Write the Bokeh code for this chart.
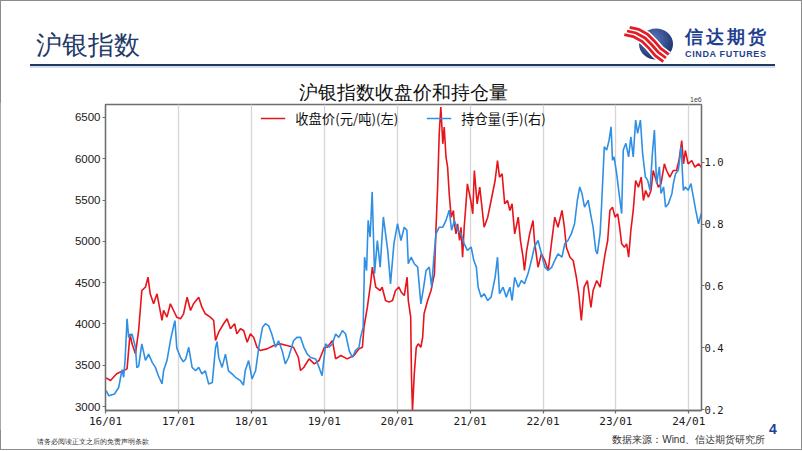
import pandas as pd
from bokeh.plotting import figure
from bokeh.models import (Range1d, LinearAxis, FixedTicker, DatetimeTickFormatter,
                          Legend, LegendItem, ColumnDataSource, Div)
from bokeh.layouts import column, row
from bokeh.embed import file_html
from bokeh.resources import INLINE

# ---------------- data ----------------
price_dates = [
    "2016-01-04", "2016-01-26", "2016-02-26", "2016-04-01", "2016-04-18", "2016-05-03", "2016-05-13",
    "2016-05-30", "2016-06-15", "2016-07-01", "2016-07-19", "2016-08-01", "2016-08-12", "2016-08-29",
    "2016-09-15", "2016-10-10", "2016-10-18", "2016-11-04", "2016-11-21", "2016-12-07", "2016-12-23",
    "2017-01-11", "2017-01-26", "2017-02-13", "2017-03-02", "2017-03-17", "2017-04-12", "2017-04-28",
    "2017-05-15", "2017-06-09", "2017-06-26", "2017-07-05", "2017-07-21", "2017-08-15", "2017-09-01",
    "2017-09-18", "2017-10-09", "2017-10-20", "2017-11-07", "2017-11-23", "2017-12-11", "2017-12-27",
    "2018-01-12", "2018-01-29", "2018-02-14", "2018-03-20", "2018-04-23", "2018-05-25", "2018-06-28",
    "2018-07-31", "2018-08-24", "2018-09-04", "2018-09-21", "2018-10-17", "2018-11-12", "2018-12-06",
    "2019-01-02", "2019-01-16", "2019-02-11", "2019-02-27", "2019-03-25", "2019-04-26", "2019-05-30",
    "2019-06-24", "2019-07-11", "2019-07-19", "2019-08-05", "2019-08-21", "2019-08-30", "2019-09-16",
    "2019-10-08", "2019-10-18", "2019-11-04", "2019-11-21", "2019-12-09", "2019-12-24",
    "2020-01-10", "2020-01-22", "2020-02-06", "2020-02-20", "2020-02-26", "2020-03-09", "2020-03-13",
    "2020-03-18", "2020-03-27", "2020-04-06", "2020-04-16", "2020-04-29", "2020-05-08", "2020-05-15",
    "2020-06-02", "2020-06-19", "2020-07-06", "2020-07-14", "2020-07-22", "2020-07-30", "2020-08-07",
    "2020-08-17", "2020-08-24", "2020-09-02", "2020-09-10", "2020-09-18", "2020-09-28", "2020-10-09",
    "2020-10-14", "2020-10-22", "2020-10-30", "2020-11-09", "2020-11-16", "2020-11-24", "2020-12-02",
    "2020-12-11", "2020-12-18",
    "2021-01-04", "2021-01-14", "2021-01-22", "2021-02-05", "2021-02-18", "2021-03-01", "2021-03-12",
    "2021-03-30", "2021-04-16", "2021-05-06", "2021-05-18", "2021-05-28", "2021-06-10", "2021-06-23",
    "2021-07-07", "2021-07-19", "2021-07-30", "2021-08-12", "2021-08-30", "2021-09-10", "2021-09-23",
    "2021-09-30", "2021-10-11", "2021-10-26", "2021-11-12", "2021-11-19", "2021-12-07", "2021-12-24",
    "2022-01-10", "2022-01-27", "2022-02-14", "2022-03-01", "2022-03-17", "2022-04-06", "2022-04-18",
    "2022-04-28", "2022-05-16", "2022-06-01", "2022-06-17", "2022-06-29", "2022-07-12", "2022-07-26",
    "2022-08-11", "2022-08-29", "2022-09-09", "2022-09-27", "2022-10-14", "2022-10-26", "2022-11-08",
    "2022-11-21", "2022-12-02", "2022-12-15", "2022-12-28",
    "2023-01-10", "2023-01-20", "2023-01-30", "2023-02-13", "2023-02-24", "2023-03-06", "2023-03-17",
    "2023-03-29", "2023-04-10", "2023-04-24", "2023-05-08", "2023-05-19", "2023-05-30", "2023-06-13",
    "2023-06-26", "2023-07-07", "2023-07-17", "2023-08-02", "2023-08-15", "2023-09-01", "2023-09-12",
    "2023-09-28", "2023-10-16", "2023-11-01", "2023-11-13", "2023-11-27", "2023-12-06", "2023-12-15",
    "2023-12-29",
    "2024-01-16", "2024-02-01", "2024-02-19", "2024-03-04",
]
price_close = [
    3347, 3315, 3396, 3436, 3456, 3880, 3759, 3638, 3920, 4405, 4445, 4566, 4365, 4244, 4365, 4042,
    4163, 4082, 4244, 4163, 4082,
    4062, 4123, 4324, 4163, 4244, 4324, 4203, 4123, 4082, 4042, 3799, 3900, 4002, 4062, 3941, 4002,
    3880, 3941, 3920, 3779, 3880,
    3839, 3718, 3678, 3698, 3739, 3759, 3739, 3718, 3597, 3436, 3476, 3577, 3517, 3557,
    3718, 3718, 3799, 3577, 3618, 3577, 3618, 3698, 3718, 3960, 4203, 4486, 4687, 4445, 4405, 4445,
    4284, 4264, 4284, 4405,
    4445, 4384, 4344, 4566, 4284, 4082, 3355, 2952, 3396, 3718, 3759, 3718, 3839, 4123, 4284, 4405,
    4607, 5171, 5656, 6302, 6625, 6181, 6383, 6019, 5898, 5576, 5293, 5374, 5213, 5091, 5213, 5010,
    5171, 4808, 5171, 5454, 5697,
    5495, 5334, 5858, 5454, 5656, 5414, 5171, 5293, 5495, 5737, 5979, 5777, 5818, 5454, 5495, 5374,
    5454, 5091, 5293, 5010, 4808, 4647, 4889, 5091, 5253, 5010, 4687, 4849,
    4768, 4647, 5010, 5293, 5171, 5374, 5171, 4929, 4808, 4768, 4566, 4365, 4042, 4445, 4526, 4200,
    4405, 4526, 4445, 4647, 4849, 5010, 5374, 5414, 5293,
    5334, 5171, 4970, 4929, 4970, 4808, 5131, 5374, 5737, 5656, 5777, 5495, 5616, 5535, 5616, 5858,
    5777, 5656, 5697, 5939, 5858, 5777, 5858, 5858, 5979, 6221, 5939, 6100, 5939,
    5979, 5898, 5939, 5898,
]

oi_dates = [
    "2016-01-04", "2016-01-18", "2016-02-15", "2016-03-07", "2016-03-24", "2016-04-01", "2016-04-08",
    "2016-04-18", "2016-04-26", "2016-05-13", "2016-05-30", "2016-06-06", "2016-06-15", "2016-07-01",
    "2016-07-19", "2016-08-04", "2016-08-22", "2016-09-07", "2016-09-22", "2016-10-10", "2016-10-18",
    "2016-11-04", "2016-11-21", "2016-12-07", "2016-12-14", "2016-12-23",
    "2017-01-11", "2017-01-25", "2017-02-06", "2017-02-21", "2017-03-10", "2017-03-27", "2017-04-12",
    "2017-04-28", "2017-05-15", "2017-06-01", "2017-06-19", "2017-07-05", "2017-07-13", "2017-07-21",
    "2017-08-07", "2017-08-24", "2017-09-08", "2017-09-26", "2017-10-13", "2017-11-07", "2017-11-22",
    "2017-12-01", "2017-12-18",
    "2018-01-04", "2018-01-22", "2018-02-07", "2018-02-26", "2018-03-12", "2018-03-28", "2018-04-13",
    "2018-05-02", "2018-05-17", "2018-06-04", "2018-06-20", "2018-07-06", "2018-07-31", "2018-08-17",
    "2018-09-04", "2018-09-21", "2018-10-08", "2018-10-25", "2018-11-19", "2018-12-06", "2018-12-21",
    "2019-01-08", "2019-01-25", "2019-02-11", "2019-02-27", "2019-03-15", "2019-04-02", "2019-04-18",
    "2019-05-06", "2019-05-22", "2019-06-06", "2019-06-24", "2019-07-02", "2019-07-15", "2019-07-22",
    "2019-08-01", "2019-08-09", "2019-08-19", "2019-08-29", "2019-09-10", "2019-09-24", "2019-10-08",
    "2019-10-24", "2019-11-04", "2019-11-15", "2019-11-29", "2019-12-16",
    "2020-01-03", "2020-01-20", "2020-02-06", "2020-02-19", "2020-02-26", "2020-03-11", "2020-03-27",
    "2020-04-13", "2020-04-29", "2020-05-13", "2020-05-25", "2020-06-10", "2020-06-22", "2020-07-02",
    "2020-07-14", "2020-07-30", "2020-08-17", "2020-09-02", "2020-09-18", "2020-09-30", "2020-10-14",
    "2020-10-30", "2020-11-16", "2020-12-02", "2020-12-18",
    "2021-01-06", "2021-01-19", "2021-02-01", "2021-02-10", "2021-02-25", "2021-03-12", "2021-03-30",
    "2021-04-16", "2021-05-06", "2021-05-18", "2021-05-28", "2021-06-15", "2021-07-01", "2021-07-19",
    "2021-07-30", "2021-08-12", "2021-08-30", "2021-09-15", "2021-09-30", "2021-10-18", "2021-11-04",
    "2021-11-19", "2021-12-07", "2021-12-24",
    "2022-01-10", "2022-01-27", "2022-02-14", "2022-03-01", "2022-03-17", "2022-04-06", "2022-04-20",
    "2022-05-06", "2022-05-23", "2022-06-08", "2022-06-22", "2022-07-04", "2022-07-15", "2022-07-28",
    "2022-08-15", "2022-08-30", "2022-09-09", "2022-09-22", "2022-09-30", "2022-10-14", "2022-10-21",
    "2022-11-04", "2022-11-16", "2022-11-28", "2022-12-08", "2022-12-15", "2022-12-23",
    "2023-01-05", "2023-01-17", "2023-01-30", "2023-02-07", "2023-02-20", "2023-03-06", "2023-03-17",
    "2023-03-29", "2023-04-10", "2023-04-20", "2023-05-04", "2023-05-15", "2023-05-29", "2023-06-09",
    "2023-06-21", "2023-07-03", "2023-07-13", "2023-07-24", "2023-08-07", "2023-08-15", "2023-08-28",
    "2023-09-07", "2023-09-21", "2023-10-09", "2023-10-16", "2023-10-27", "2023-11-10", "2023-11-24",
    "2023-12-05", "2023-12-15", "2023-12-29",
    "2024-01-12", "2024-01-24", "2024-02-05", "2024-02-19", "2024-03-04",
]
oi_hold = [
    262000, 245000, 251000, 272000, 330000, 305000, 360000, 494000, 434000, 445000, 402000, 336000,
    340000, 413000, 360000, 380000, 353000, 337000, 310000, 284000, 326000, 359000, 423000, 470000,
    488000, 400000,
    369000, 355000, 364000, 402000, 337000, 326000, 337000, 316000, 326000, 283000, 288000, 400000,
    420000, 370000, 337000, 380000, 326000, 316000, 305000, 294000, 280000, 326000, 359000,
    300000, 326000, 402000, 467000, 478000, 472000, 445000, 402000, 423000, 391000, 348000, 369000,
    423000, 434000, 434000, 402000, 380000, 369000, 364000, 337000, 310000,
    413000, 402000, 413000, 445000, 434000, 456000, 445000, 391000, 369000, 391000, 402000, 434000,
    467000, 693000, 650000, 812000, 758000, 904000, 640000, 747000, 661000, 823000, 769000, 715000,
    607000, 737000,
    801000, 747000, 790000, 780000, 672000, 693000, 672000, 661000, 542000, 596000, 650000, 661000,
    596000, 683000, 769000, 790000, 790000, 812000, 845000, 780000, 812000, 780000, 769000, 737000,
    715000,
    726000, 683000, 661000, 596000, 564000, 575000, 553000, 564000, 628000, 693000, 575000, 596000,
    564000, 596000, 553000, 628000, 596000, 618000, 607000, 640000, 683000, 726000, 747000, 704000,
    661000, 650000, 661000, 683000, 704000, 693000, 737000, 747000, 769000, 801000, 877000, 920000,
    899000, 855000, 877000, 823000, 790000, 715000, 704000, 769000, 855000, 1050000, 1039000,
    1071000, 1114000, 1006000, 1017000,
    963000, 899000, 834000, 1039000, 1061000, 1017000, 1082000, 1017000, 1136000, 1093000, 1136000,
    1028000, 952000, 942000, 909000, 1028000, 1104000, 931000, 985000, 899000, 920000, 855000,
    866000, 899000, 931000, 963000, 974000, 1050000, 909000, 920000, 909000,
    931000, 888000, 845000, 801000, 834000,
]

x_tick_dates = ["2016-01-01", "2017-01-01", "2018-01-01", "2019-01-01", "2020-01-01",
                "2021-01-01", "2022-01-01", "2023-01-01", "2024-01-01"]
x_tick_labels = ["16/01", "17/01", "18/01", "19/01", "20/01", "21/01", "22/01", "23/01", "24/01"]
price_ticks = [3000, 3500, 4000, 4500, 5000, 5500, 6000, 6500]
oi_ticks = [200000, 400000, 600000, 800000, 1000000]
oi_tick_labels = ["0.2", "0.4", "0.6", "0.8", "1.0"]
oi_offset_text = "1e6"

series_names = ["收盘价(元/吨)(左)", "持仓量(手)(右)"]
chart_title = "沪银指数收盘价和持仓量"
slide_title = "沪银指数"
brand_cn = "信达期货"
brand_en = "CINDA FUTURES"
source_note = "数据来源：Wind、信达期货研究所"
disclaimer = "请务必阅读正文之后的免责声明条款"
page_no = "4"

# ---------------- styling ----------------
CJK = "Noto Sans CJK SC"
NAVY = "#1F3A68"
BRAND = "#1F3F8F"
RED = "#E8141B"
BLUE = "#2F8FE5"
SPINE = "#6e6e6e"

# ---------------- header: slide title, rule, logo, chart title ----------------
base = [(627, 31), (636, 33), (645, 38), (652, 45), (658, 52), (666, 58)]
def pts(off):
    return " ".join(f"{x - 0.6 * off:.1f},{y + 0.8 * off:.1f}" for x, y in base)

header_svg = f"""
<svg xmlns="http://www.w3.org/2000/svg" width="802" height="102" style="display:block">
  <defs>
    <radialGradient id="gl" cx="0.4" cy="0.35" r="0.7">
      <stop offset="0" stop-color="#5d7cc0"/>
      <stop offset="1" stop-color="#1b2f6a"/>
    </radialGradient>
  </defs>
  <text x="36" y="45" font-family="{CJK}" font-size="26" fill="{NAVY}"
        dominant-baseline="central">{slide_title}</text>
  <line x1="30" y1="67" x2="775" y2="67" stroke="#c9d3e3" stroke-width="1.5"/>
  <line x1="30" y1="65" x2="775" y2="65" stroke="{NAVY}" stroke-width="2"/>
  <ellipse cx="656" cy="44" rx="17" ry="15.5" fill="url(#gl)"/>
  <polyline points="{pts(0)}" fill="none" stroke="white" stroke-width="15"/>
  <polyline points="{pts(-4.5)}" fill="none" stroke="#E21B25" stroke-width="2.8"/>
  <polyline points="{pts(0)}" fill="none" stroke="#E21B25" stroke-width="2.8"/>
  <polyline points="{pts(4.5)}" fill="none" stroke="#E21B25" stroke-width="2.8"/>
  <text x="685" y="37" font-family="{CJK}" font-size="17.5" font-weight="bold" fill="{BRAND}"
        textLength="81" lengthAdjust="spacing" dominant-baseline="central">{brand_cn}</text>
  <text x="685" y="54" font-family="Liberation Sans" font-size="9" font-weight="bold"
        fill="{BRAND}" textLength="81" lengthAdjust="spacing"
        dominant-baseline="central">{brand_en}</text>
  <text x="403" y="92.5" font-family="{CJK}" font-size="19" fill="#111111" text-anchor="middle"
        dominant-baseline="central">{chart_title}</text>
  <text x="690" y="99.5" font-family="DejaVu Sans" font-size="7" fill="#444444"
        dominant-baseline="central">{oi_offset_text}</text>
</svg>"""

footer_svg = f"""
<svg xmlns="http://www.w3.org/2000/svg" width="766" height="20" style="display:block">
  <text x="37" y="11" font-family="{CJK}" font-size="6.8" fill="#333333"
        dominant-baseline="central">{disclaimer}</text>
  <text x="765" y="9.5" font-family="{CJK}" font-size="10" fill="#333333" text-anchor="end"
        dominant-baseline="central">{source_note}</text>
</svg>"""

strip_svg = f"""
<svg xmlns="http://www.w3.org/2000/svg" width="36" height="348" style="display:block">
  <text x="7" y="327" font-family="Liberation Sans" font-size="14" font-weight="bold"
        fill="#1F3F99" text-anchor="middle" dominant-baseline="central">{page_no}</text>
</svg>"""

header = Div(text=header_svg, width=802, height=102, margin=0)
footer = Div(text=footer_svg, width=766, height=20, margin=0)
strip = Div(text=strip_svg, width=36, height=348, margin=0)

# ---------------- chart ----------------
p = figure(width=766, height=328, x_axis_type="datetime", title_location=None,
           x_range=Range1d(pd.Timestamp("2016-01-01"), pd.Timestamp("2024-03-05")),
           y_range=Range1d(2952, 6657),
           output_backend="svg", toolbar_location=None,
           min_border_left=105, min_border_right=65, min_border_top=2, min_border_bottom=20)

p.extra_y_ranges = {"oi": Range1d(197700, 1186400)}

src_p = ColumnDataSource(dict(date=pd.to_datetime(price_dates), v=price_close))
src_o = ColumnDataSource(dict(date=pd.to_datetime(oi_dates), v=oi_hold))
r1 = p.line("date", "v", source=src_p, line_color=RED, line_width=1.6)
r2 = p.line("date", "v", source=src_o, y_range_name="oi", line_color=BLUE, line_width=1.6)

x_ticks = [pd.Timestamp(d).value / 1e6 for d in x_tick_dates]
xt = FixedTicker(ticks=x_ticks)
xa = p.xaxis[0]
xa.ticker = xt
fmt = "%y/%m"
xa.formatter = DatetimeTickFormatter(microseconds=fmt, milliseconds=fmt, seconds=fmt, minsec=fmt,
                                     minutes=fmt, hourmin=fmt, hours=fmt, days=fmt, months=fmt,
                                     years=fmt)
xa.major_label_overrides = dict(zip(x_ticks, x_tick_labels))
xa.major_label_text_font = "DejaVu Sans Mono"
xa.major_label_text_font_size = "11px"
xa.major_label_standoff = 1

ya = p.yaxis[0]
ya.ticker = FixedTicker(ticks=price_ticks)
ya.major_label_text_font = "Liberation Sans"
ya.major_label_text_font_size = "11.5px"
ya.major_label_standoff = 2

ra = LinearAxis(y_range_name="oi", ticker=FixedTicker(ticks=oi_ticks),
                major_label_overrides=dict(zip(oi_ticks, oi_tick_labels)))
ra.major_label_text_font = "DejaVu Sans Mono"
ra.major_label_text_font_size = "10.5px"
ra.major_label_standoff = 0
p.add_layout(ra, "right")

for ax in (xa, ya, ra):
    ax.axis_line_color = SPINE
    ax.axis_line_width = 1.3
    ax.major_tick_line_color = SPINE
    ax.major_tick_line_width = 1.2
    ax.major_tick_in = 0
    ax.major_tick_out = 3
    ax.minor_tick_line_color = None
    ax.major_label_text_color = "#1a1a1a"

p.xgrid.ticker = xt
p.xgrid.grid_line_color = "#d6d6d6"
p.xgrid.grid_line_width = 1.3
p.ygrid.grid_line_color = None
p.outline_line_color = SPINE
p.outline_line_width = 1.3
p.outline_line_alpha = 1.0

legend = Legend(items=[LegendItem(label=series_names[0], renderers=[r1]),
                       LegendItem(label=series_names[1], renderers=[r2])],
                location="top_center", orientation="horizontal")
legend.label_text_font = CJK
legend.label_text_font_size = "13.3px"
legend.label_text_color = "#111111"
legend.glyph_width = 25
legend.label_standoff = 10
legend.spacing = 28
legend.padding = 4
legend.margin = 0
legend.border_line_alpha = 0
legend.background_fill_alpha = 0
p.add_layout(legend)

layout = column(header, row(column(p, footer), strip),
                styles={"outline": "1px solid #8c8c8c", "outline-offset": "-1px"})
open("out.html", "w").write(file_html(layout, INLINE))
